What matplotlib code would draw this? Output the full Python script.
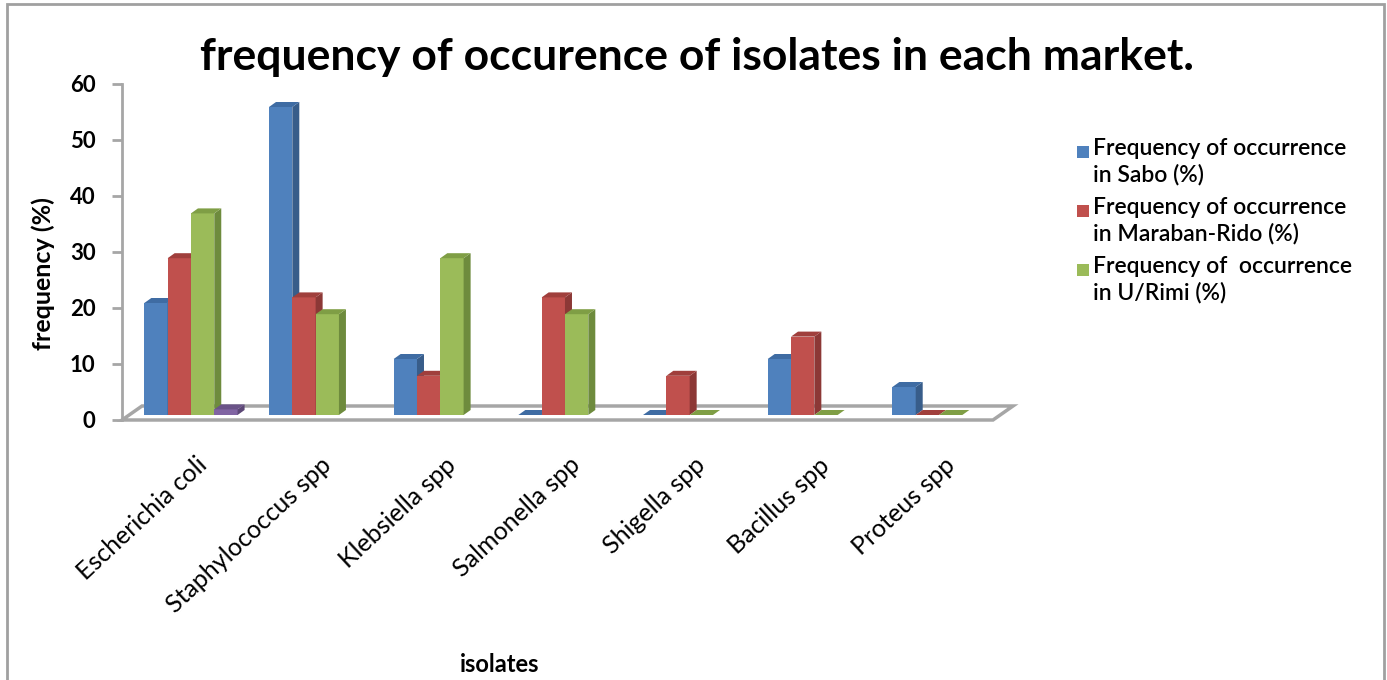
import matplotlib.pyplot as plt
import matplotlib.transforms as mtransforms
from matplotlib.patches import Polygon, Rectangle
import numpy as np

# données
categories = ["Escherichia coli", "Staphylococcus spp", "Klebsiella spp", "Salmonella spp",
              "Shigella spp", "Bacillus spp", "Proteus spp"]
sabo = [20, 55, 10, 0, 0, 10, 5]
maraban_rido = [28, 21, 7, 21, 7, 14, 0]
u_rimi = [36, 18, 28, 18, 0, 0, 0]
sans_nom = [1, np.nan, np.nan, np.nan, np.nan, np.nan, np.nan]  # petite barre violette
series_labels = ["Frequency of occurrence\nin Sabo (%)",
                 "Frequency of occurrence\nin Maraban-Rido (%)",
                 "Frequency of  occurrence\nin U/Rimi (%)"]
y_ticks = [0, 10, 20, 30, 40, 50, 60]

front = ["#4F81BD", "#C0504D", "#9BBB59", "#8064A2"]
side = ["#385D8A", "#8C3836", "#6E8B3D", "#5C4776"]
top = ["#3F6CA3", "#A03F3C", "#7F9E45", "#6A5388"]

plt.rcParams['font.family'] = ['Lato', 'DejaVu Sans']

fig = plt.figure(figsize=(13.87, 6.8), dpi=100)
W, H = 1387, 680
# axes: x de 122 à 993 px, y de 84 (60) à 420 (0)
ax = fig.add_axes([122 / W, (H - 420) / H, (993 - 122) / W, (420 - 84) / H])
ax.set_xlim(-0.553, 6.433)
ax.set_ylim(0, 60)

# conversion pixels -> unités de données
px_x = 871 / (6.433 + 0.553)
px_y = 336 / 60
lift = 5 / px_y           # base des barres au-dessus du bord avant du sol
dx, dy = 7 / px_x, 5 / px_y  # profondeur des barres

# sol
fdx, fdy = 20 / px_x, 14 / px_y
x0, x1 = -0.553, 6.433
floor = Polygon([[x0, 0], [x1, 0], [x1 + fdx, fdy], [x0 + fdx, fdy]], closed=True,
                facecolor="white", edgecolor="#A6A6A6", lw=2.5, clip_on=False, zorder=1)
ax.add_patch(floor)

x = np.arange(len(categories))
width = 0.187
all_series = [sabo, maraban_rido, u_rimi, sans_nom]
for i, vals in enumerate(all_series):
    xs = x + (i - 1.5) * width - width / 2
    for xl, v in zip(xs, vals):
        if np.isnan(v):
            continue
        b = lift
        xr = xl + width
        if v > 0:
            ax.add_patch(Rectangle((xl, b), width, v, facecolor=front[i], edgecolor="none",
                                   zorder=2, clip_on=False))
            ax.add_patch(Polygon([[xr, b], [xr + dx, b + dy], [xr + dx, b + v + dy], [xr, b + v]],
                                 facecolor=side[i], edgecolor="none", zorder=2, clip_on=False))
        ax.add_patch(Polygon([[xl, b + v], [xr, b + v], [xr + dx, b + v + dy], [xl + dx, b + v + dy]],
                             facecolor=top[i], edgecolor="none", zorder=2, clip_on=False))

for s in ["top", "right", "bottom"]:
    ax.spines[s].set_visible(False)
ax.spines["left"].set_color("#A6A6A6")
ax.spines["left"].set_linewidth(2)
ax.set_yticks(y_ticks)
ax.tick_params(axis="y", colors="#A6A6A6", length=7, width=2, labelcolor="black",
               labelsize=16, pad=12)
for lab in ax.get_yticklabels():
    lab.set_fontweight("bold")

ax.set_xticks(x)
ax.set_xticklabels(categories, rotation=43, ha="right", va="center", rotation_mode="anchor",
                   fontsize=18)
ax.tick_params(axis="x", length=0, pad=30)
shift = mtransforms.ScaledTranslation(0.12, 0, fig.dpi_scale_trans)
for lab in ax.get_xticklabels():
    lab.set_transform(lab.get_transform() + shift)

fig.text(697 / W, 1 - 57 / H, "frequency of occurence of isolates in each market.",
         ha="center", va="center", fontsize=32, fontweight="bold")
fig.text(43 / W, 1 - 274 / H, "frequency (%)", rotation=90, ha="center", va="center",
         fontsize=18, fontweight="bold")
fig.text(500 / W, 1 - 664 / H, "isolates", ha="center", va="center", fontsize=17,
         fontweight="bold")

# légende faite à la main
for i, lab in enumerate(series_labels):
    yc = 152 + i * 59
    fig.patches.append(Rectangle((1077 / W, 1 - (yc + 6) / H), 12 / W, 12 / H,
                                 facecolor=front[i], edgecolor="none",
                                 transform=fig.transFigure, figure=fig))
    fig.text(1093 / W, 1 - (yc - 14) / H, lab, ha="left", va="top", fontsize=16.5,
             fontweight="semibold", linespacing=1.25)

# cadre gris autour du graphique
fig.patches.append(Rectangle((7 / W, -0.01), 1377 / W, 1 - 4 / H + 0.01, fill=False,
                             edgecolor="#A0A0A0", lw=2, transform=fig.transFigure, figure=fig))

fig.savefig("out.png", dpi=100)
